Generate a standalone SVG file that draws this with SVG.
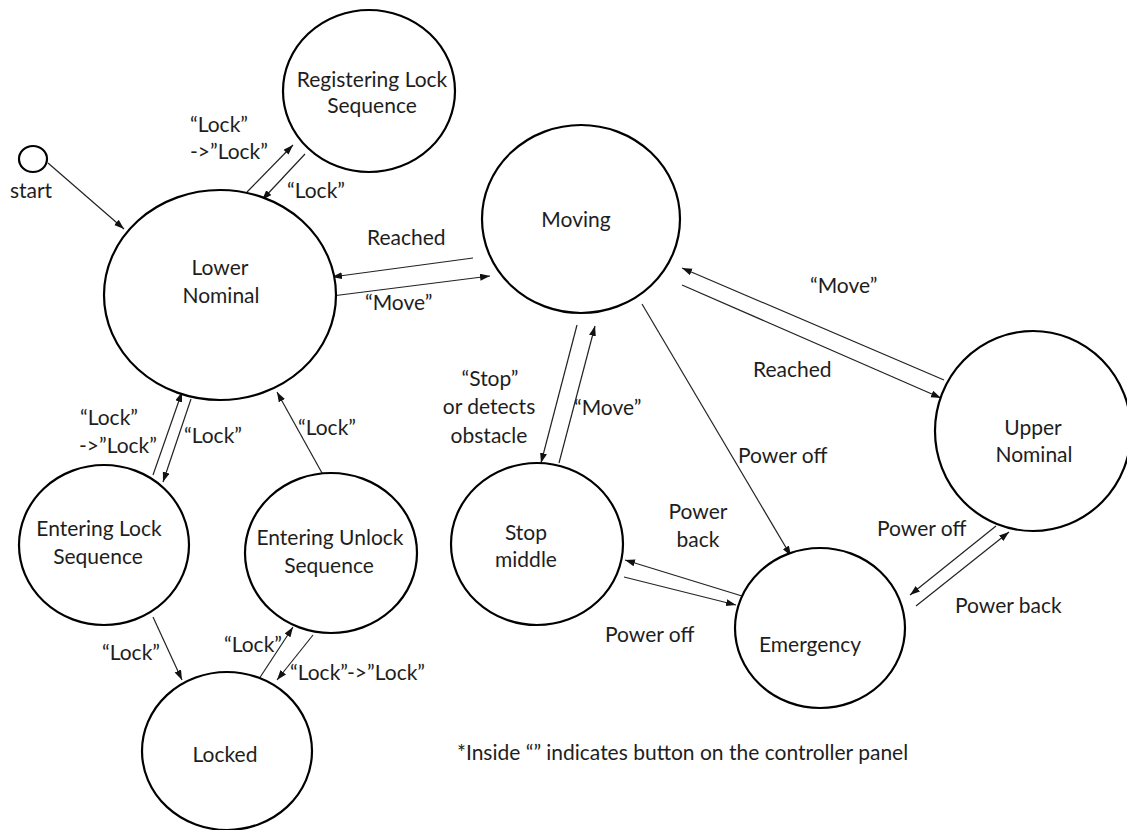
<svg xmlns="http://www.w3.org/2000/svg" width="1127" height="830" viewBox="0 0 1127 830">
  <defs>
    <marker id="arrow" markerUnits="userSpaceOnUse" markerWidth="11" markerHeight="8" refX="10" refY="3.5" orient="auto">
      <path d="M0,0 L10,3.5 L0,7 z" fill="#111"/>
    </marker>
    <style>
      .state { fill: #fff; stroke: #000; stroke-width: 2.2; }
      .edge { fill: none; stroke: #222; stroke-width: 1.2; marker-end: url(#arrow); }
      text { font-family: Lato, "Noto Sans", sans-serif; font-size: 21px; fill: #1e1e1e; }
      .c { text-anchor: middle; }
    </style>
  </defs>
  <rect width="1127" height="830" fill="#fff"/>

  <!-- transitions -->
  <g id="connectors">
    <line class="edge" x1="48" y1="163" x2="124" y2="229"/>
    <line class="edge" x1="247" y1="192" x2="293" y2="145"/>
    <line class="edge" x1="305" y1="154" x2="262" y2="200"/>
    <line class="edge" x1="473" y1="258" x2="332" y2="277"/>
    <line class="edge" x1="332" y1="296" x2="490" y2="276"/>
    <line class="edge" x1="944" y1="380" x2="682" y2="268"/>
    <line class="edge" x1="682" y1="285" x2="941" y2="398"/>
    <line class="edge" x1="577" y1="325" x2="541" y2="463"/>
    <line class="edge" x1="559" y1="463" x2="595" y2="326"/>
    <line class="edge" x1="642" y1="304" x2="791" y2="556"/>
    <line class="edge" x1="742" y1="596" x2="625" y2="560"/>
    <line class="edge" x1="624" y1="577" x2="736" y2="605"/>
    <line class="edge" x1="996" y1="526" x2="910" y2="595"/>
    <line class="edge" x1="916" y1="606" x2="1009" y2="532"/>
    <line class="edge" x1="153" y1="475" x2="182" y2="392"/>
    <line class="edge" x1="191" y1="399" x2="163" y2="482"/>
    <line class="edge" x1="322" y1="473" x2="277" y2="392"/>
    <line class="edge" x1="153" y1="617" x2="182" y2="680"/>
    <line class="edge" x1="257" y1="682" x2="293" y2="627"/>
    <line class="edge" x1="313" y1="635" x2="277" y2="680"/>
  </g>

  <!-- transition labels -->
  <g id="edge-labels">
    <text x="190" y="132">“Lock”</text>
    <text x="190" y="159">-&gt;”Lock”</text>
    <text x="287" y="198">“Lock”</text>
    <text x="367" y="245">Reached</text>
    <text x="365" y="310">“Move”</text>
    <text x="810" y="293">“Move”</text>
    <text x="753" y="377">Reached</text>
    <text class="c" x="490" y="386">“Stop”</text>
    <text class="c" x="489" y="414">or detects</text>
    <text class="c" x="489" y="443">obstacle</text>
    <text x="574" y="415">“Move”</text>
    <text x="738" y="463">Power off</text>
    <text class="c" x="698" y="519">Power</text>
    <text class="c" x="698" y="547">back</text>
    <text x="605" y="642">Power off</text>
    <text x="877" y="536">Power off</text>
    <text x="955" y="613">Power back</text>
    <text x="80" y="425">“Lock”</text>
    <text x="79" y="453">-&gt;”Lock”</text>
    <text x="184" y="443">“Lock”</text>
    <text x="298" y="435">“Lock”</text>
    <text x="102" y="660">“Lock”</text>
    <text x="224" y="652">“Lock”</text>
    <text x="290" y="680">“Lock”-&gt;”Lock”</text>
  </g>

  <!-- states -->
  <g id="start">
    <ellipse class="state" cx="33" cy="159" rx="14" ry="13"/>
    <text class="c" x="31" y="198">start</text>
  </g>
  <g id="registering-lock-sequence">
    <ellipse class="state" cx="369" cy="91" rx="86" ry="81"/>
    <text class="c" x="372" y="87">Registering Lock</text>
    <text class="c" x="372" y="113">Sequence</text>
  </g>
  <g id="lower-nominal">
    <ellipse class="state" cx="220" cy="295" rx="116" ry="105"/>
    <text class="c" x="220" y="275">Lower</text>
    <text class="c" x="221" y="303">Nominal</text>
  </g>
  <g id="moving">
    <ellipse class="state" cx="581" cy="219" rx="99" ry="94"/>
    <text class="c" x="576" y="227">Moving</text>
  </g>
  <g id="upper-nominal">
    <ellipse class="state" cx="1033" cy="431" rx="98" ry="100"/>
    <text class="c" x="1033" y="435">Upper</text>
    <text class="c" x="1034" y="462">Nominal</text>
  </g>
  <g id="stop-middle">
    <ellipse class="state" cx="537" cy="544" rx="86" ry="81"/>
    <text class="c" x="526" y="540">Stop</text>
    <text class="c" x="526" y="567">middle</text>
  </g>
  <g id="emergency">
    <ellipse class="state" cx="820" cy="628" rx="85" ry="80"/>
    <text class="c" x="810" y="652">Emergency</text>
  </g>
  <g id="entering-lock-sequence">
    <ellipse class="state" cx="104" cy="545" rx="85" ry="80"/>
    <text class="c" x="99" y="536">Entering Lock</text>
    <text class="c" x="98" y="564">Sequence</text>
  </g>
  <g id="entering-unlock-sequence">
    <ellipse class="state" cx="331" cy="553" rx="86" ry="80"/>
    <text class="c" x="330" y="545">Entering Unlock</text>
    <text class="c" x="329" y="573">Sequence</text>
  </g>
  <g id="locked">
    <ellipse class="state" cx="227" cy="751" rx="85" ry="79"/>
    <text class="c" x="225" y="762">Locked</text>
  </g>

  <text x="457" y="760">*Inside “” indicates button on the controller panel</text>
</svg>
